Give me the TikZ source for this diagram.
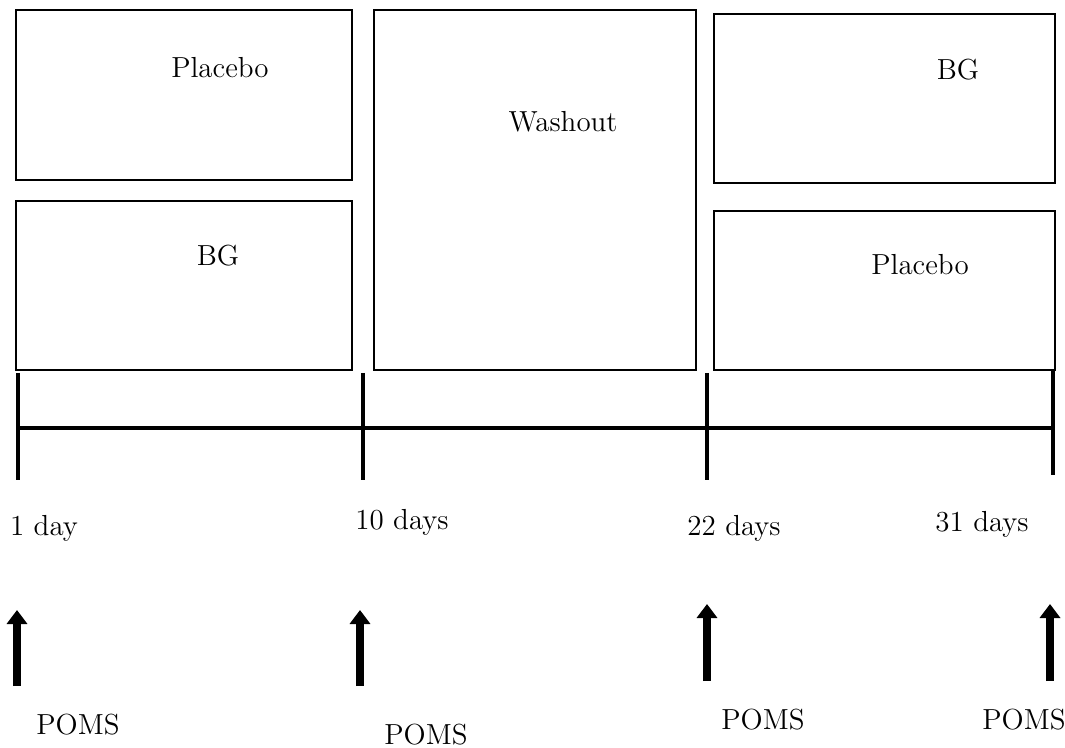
\documentclass[tikz,border=0pt]{standalone}
\usepackage{tikz}
\usetikzlibrary{shapes}
\usetikzlibrary{arrows.meta}

\begin{document}
\begin{tikzpicture}[x=0.5pt,y=-0.5pt]
\tikzstyle{period}=[rectangle,draw,line width=0.7pt,inner sep=0pt]
\tikzstyle{lbl}=[font=\fontsize{14.5}{17}\selectfont,inner sep=0pt]
\tikzstyle{axis}=[line width=2.2pt]
\tikzstyle{tick}=[line width=2pt]
\tikzstyle{poms}=[line width=4.2pt,-{Triangle[width=10pt,length=7pt]}]
\useasboundingbox (0,0) rectangle (1065,748);
% treatment boxes
\node[period,minimum width=168pt,minimum height=85pt] (pla1) at (184,95) {};
\node[period,minimum width=168pt,minimum height=84.5pt] (bg1) at (184,285.5) {};
\node[period,minimum width=161pt,minimum height=180pt] (wash) at (535,190) {};
\node[period,minimum width=170.5pt,minimum height=84.5pt] (bg2) at (884.5,98.5) {};
\node[period,minimum width=170.5pt,minimum height=79.5pt] (pla2) at (884.5,290.5) {};
\node[lbl] (tpla1) at (220,68) {Placebo};
\node[lbl] (tbg1) at (218,256) {BG};
\node[lbl] (twash) at (563,122) {Washout};
\node[lbl] (tbg2) at (958,70) {BG};
\node[lbl] (tpla2) at (920,265) {Placebo};
% timeline
\coordinate (l0) at (16,428);
\coordinate (l1) at (1055,428);
\draw[axis] (l0) -- (l1);
\coordinate (k1a) at (18,373); \coordinate (k1b) at (18,480);
\coordinate (k2a) at (363,373); \coordinate (k2b) at (363,480);
\coordinate (k3a) at (707,373); \coordinate (k3b) at (707,480);
\coordinate (k4a) at (1053,370); \coordinate (k4b) at (1053,475);
\draw[tick] (k1a) -- (k1b);
\draw[tick] (k2a) -- (k2b);
\draw[tick] (k3a) -- (k3b);
\draw[tick] (k4a) -- (k4b);
\node[lbl] (d1) at (44,528) {1 day};
\node[lbl] (d2) at (402,522) {10 days};
\node[lbl] (d3) at (734,528) {22 days};
\node[lbl] (d4) at (982,524) {31 days};
% POMS measurements
\coordinate (a1s) at (17,686); \coordinate (a1e) at (17,610);
\coordinate (a2s) at (360,686); \coordinate (a2e) at (360,610);
\coordinate (a3s) at (707,681); \coordinate (a3e) at (707,604);
\coordinate (a4s) at (1050,681); \coordinate (a4e) at (1050,604);
\draw[poms] (a1s) -- (a1e);
\draw[poms] (a2s) -- (a2e);
\draw[poms] (a3s) -- (a3e);
\draw[poms] (a4s) -- (a4e);
\node[lbl] (m1) at (78,725) {POMS};
\node[lbl] (m2) at (426,735) {POMS};
\node[lbl] (m3) at (763,720) {POMS};
\node[lbl] (m4) at (1024,720) {POMS};
\end{tikzpicture}
\end{document}
